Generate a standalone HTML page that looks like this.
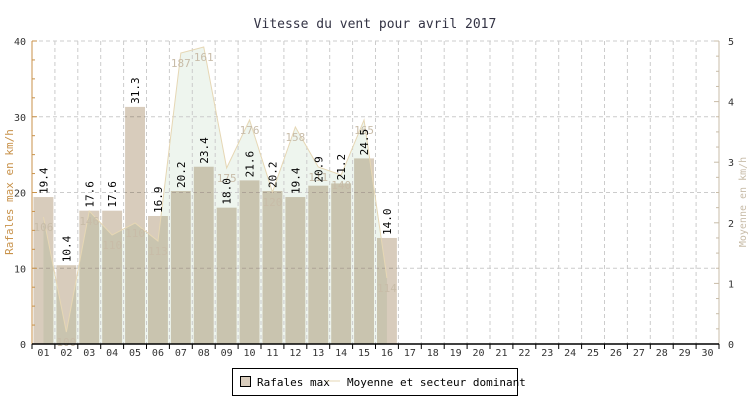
<!DOCTYPE html>
<html><head><meta charset="utf-8"><style>
html,body{margin:0;padding:0;background:#fff;width:750px;height:400px;overflow:hidden}
svg{display:block;font-family:"DejaVu Sans Mono","Liberation Mono",monospace}
</style></head><body>
<svg id="c" width="750" height="400" xmlns="http://www.w3.org/2000/svg"></svg>
<script>
const s=document.getElementById('c');
let h='';
const L=32,R=719,T=41,B=344,W=(R-L)/30,ys=v=>B-v*(B-T)/40;
h+=`<text x="375" y="28" text-anchor="middle" font-size="13" fill="#334" font-family="DejaVu Sans Mono,monospace">Vitesse du vent pour avril 2017</text>`;
// area
const py=[217,332,211,235,223,241,53,47,168,120,192,127,167,175,120,278];
const lab=['106','100','146','110','110','113','187','161','175','176','120','158','111','140','165','114'];
let pts=`${L+W*0.5},${B} `;
py.forEach((y,i)=>pts+=`${L+W*(i+0.5)},${y} `);
pts+=`${L+W*15.5},${B}`;
h+=`<polygon points="${pts}" fill="#eef5ee"/>`;
// grid
for(let i=1;i<30;i++){const x=L+W*i;h+=`<line x1="${x}" y1="${T}" x2="${x}" y2="${B}" stroke="#ccc" stroke-dasharray="4,3"/>`;}
for(let v=10;v<=40;v+=10){h+=`<line x1="${L}" y1="${ys(v)}" x2="${R}" y2="${ys(v)}" stroke="#ccc" stroke-dasharray="4,3"/>`;}
// bars
const bv=[19.4,10.4,17.6,17.6,31.3,16.9,20.2,23.4,18.0,21.6,20.2,19.4,20.9,21.2,24.5,14.0];
bv.forEach((v,i)=>{const x=L+W*i+1.5;h+=`<rect x="${x}" y="${ys(v)}" width="${W-3}" height="${B-ys(v)}" fill="#d8ccbc" style="mix-blend-mode:multiply"/>`;});
// line
let lp='';py.forEach((y,i)=>lp+=`${L+W*(i+0.5)},${y} `);
h+=`<polyline points="${lp}" fill="none" stroke="#e6d7b4" stroke-width="1"/>`;
// direction labels
py.forEach((y,i)=>{h+=`<text x="${L+W*(i+0.5)}" y="${Math.min(y+14,352)}" text-anchor="middle" font-size="11" fill="#c8bca8">${lab[i]}</text>`;});
// bar value labels
bv.forEach((v,i)=>{const x=L+W*(i+0.5)+4,y=ys(v)-3;h+=`<text transform="translate(${x},${y}) rotate(-90)" font-size="11" fill="#000">${v.toFixed(1)}</text>`;});
// axes
h+=`<line x1="${L}" y1="${T}" x2="${L}" y2="${B}" stroke="#c8924a"/>`;
for(let v=0;v<=40;v+=2.5){const y=ys(v);h+=`<line x1="${L}" y1="${y}" x2="${v%10?L+3:L+5}" y2="${y}" stroke="#c8924a"/>`;}
for(let v=0;v<=40;v+=10)h+=`<text x="${L-6}" y="${ys(v)+4}" text-anchor="end" font-size="10" fill="#333">${v}</text>`;
h+=`<line x1="${R}" y1="${T}" x2="${R}" y2="${B}" stroke="#c8bca8"/>`;
for(let k=0;k<=20;k++){const y=B-k*(B-T)/20;h+=`<line x1="${R}" y1="${y}" x2="${k%4?R-3:R-5}" y2="${y}" stroke="#c8bca8"/>`;}
for(let k=0;k<=5;k++)h+=`<text x="${R+9}" y="${B-k*(B-T)/5+4}" font-size="10" fill="#333">${k}</text>`;
h+=`<line x1="${L}" y1="${B}" x2="${R}" y2="${B}" stroke="#000" stroke-width="1.5"/>`;
for(let i=0;i<=30;i++){const x=L+W*i;h+=`<line x1="${x}" y1="${B}" x2="${x}" y2="${B+5}" stroke="#000"/>`;}
for(let i=0;i<30;i++)h+=`<text x="${L+W*(i+0.5)}" y="${B+12}" text-anchor="middle" font-size="10" fill="#333">${String(i+1).padStart(2,'0')}</text>`;
h+=`<text transform="translate(13,192) rotate(-90)" text-anchor="middle" font-size="11" fill="#c8924a">Rafales max en km/h</text>`;
h+=`<text transform="translate(746,202) rotate(-90)" text-anchor="middle" font-size="10" fill="#c8bca8">Moyenne en km/h</text>`;
// legend
h+=`<rect x="232.5" y="368.5" width="285" height="27" fill="#fff" stroke="#000"/>`;
h+=`<rect x="240.5" y="376.5" width="10" height="10" fill="#d8ccbc" stroke="#000"/>`;
h+=`<text x="257" y="386" font-size="11" fill="#000">Rafales max</text>`;
h+=`<line x1="326" y1="381" x2="340" y2="381" stroke="#e6d7b4"/>`;
h+=`<text x="347" y="386" font-size="11" fill="#000">Moyenne et secteur dominant</text>`;
s.innerHTML=h;
</script>
</body></html>
